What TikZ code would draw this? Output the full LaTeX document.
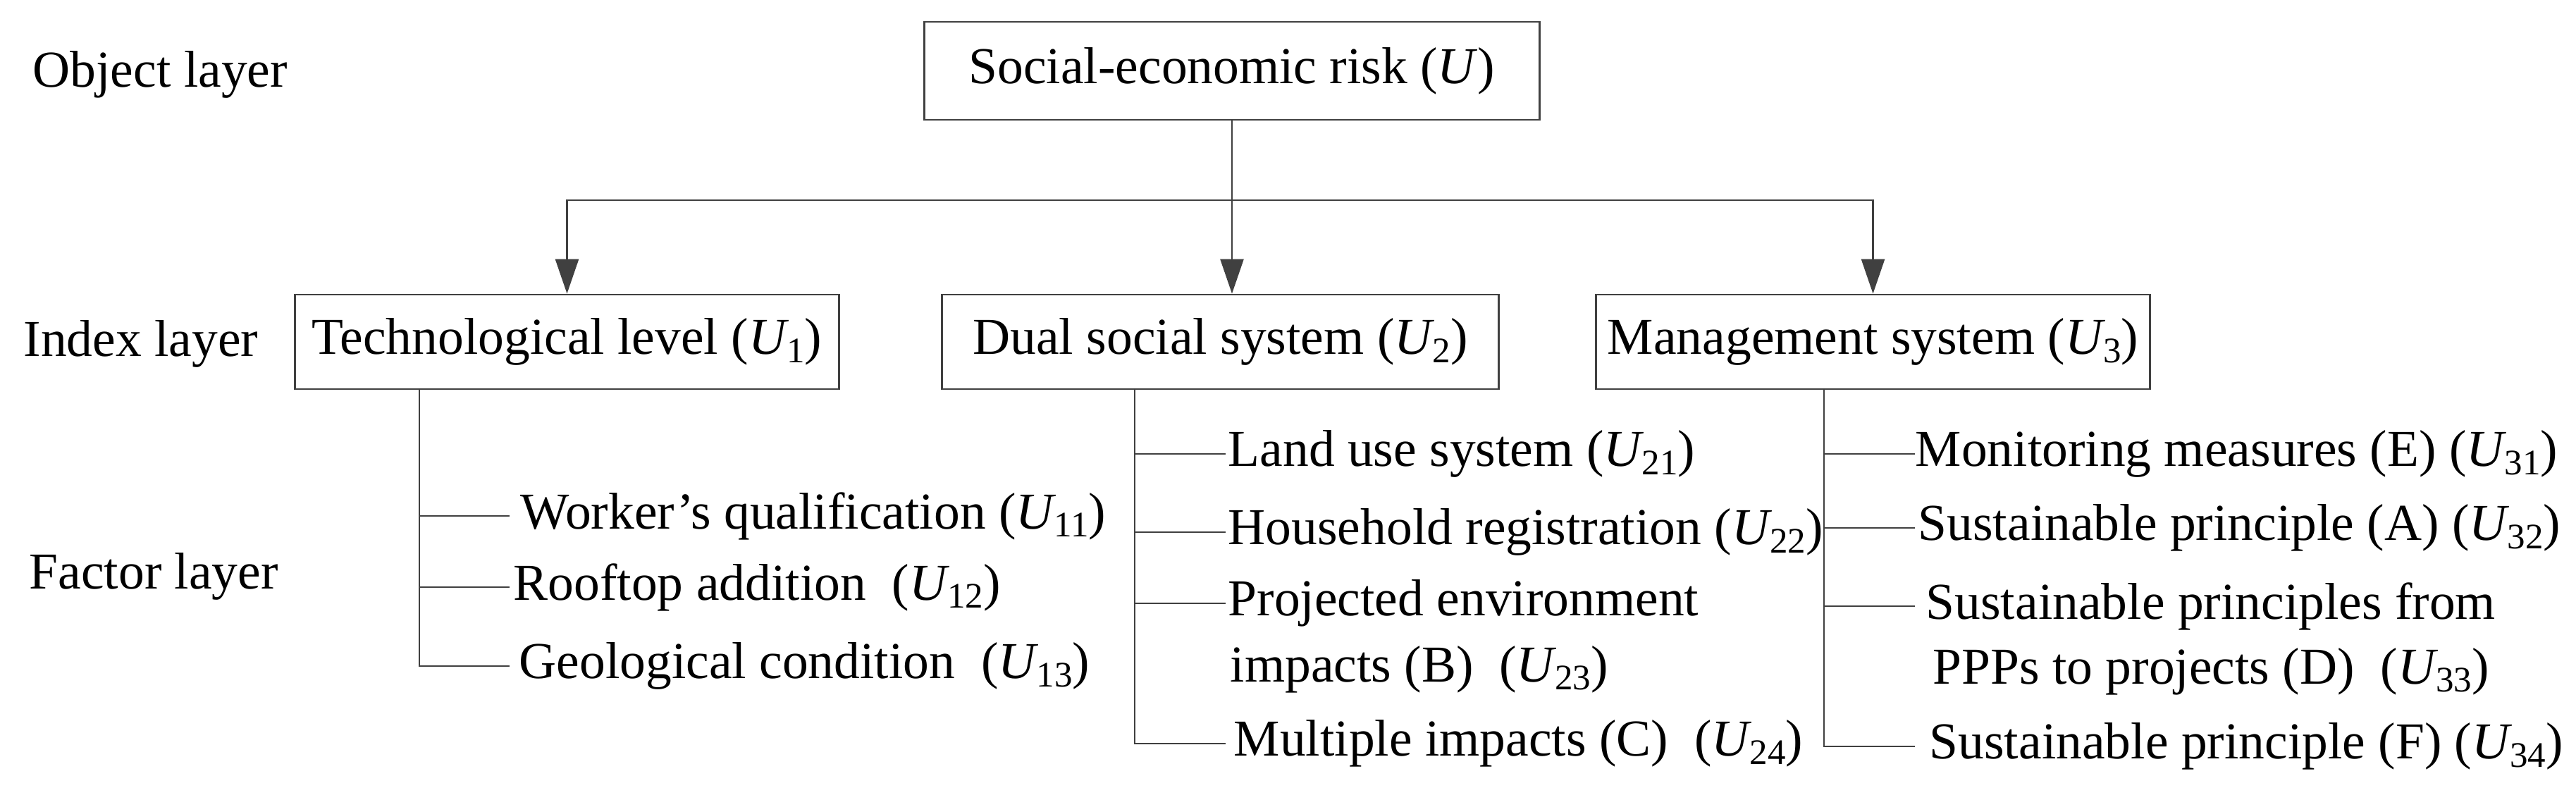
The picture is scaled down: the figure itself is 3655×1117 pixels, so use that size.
\documentclass[tikz,border=0pt]{standalone}
\usepackage{fontspec}
\setmainfont{Liberation Serif}
\usetikzlibrary{arrows.meta}
\definecolor{linec}{RGB}{64,64,64}
\newcommand\Us[1]{\textit{U}\kern-0.04em\raisebox{-0.35ex}{\fontsize{14.5}{15}\selectfont #1}}
\begin{document}
\begin{tikzpicture}[x=0.01cm,y=-0.01cm,font=\fontsize{20.9}{25}\selectfont,
  box/.style={draw=linec,line width=0.75pt,inner sep=0pt,align=center},
  conn/.style={draw=linec,line width=0.7pt},
  arr/.style={conn,-{Triangle[length=0.49cm,width=0.33cm]}},
  fac/.style={anchor=west,inner ysep=0pt,text=black},
  lay/.style={anchor=base west,inner sep=0pt}]
\useasboundingbox (0,0) rectangle (3655,1117);

% layer labels
\node[lay] (lo) at (46,123) {Object layer};
\node[lay] (li) at (33,505) {Index layer};
\node[lay] (lf) at (41,835) {Factor layer};

% object and index boxes
\node[box,minimum width=8.73cm,minimum height=1.39cm] (soc) at (1748,100.5) {Social-economic risk (\textit{U})};
\node[box,minimum width=7.71cm,minimum height=1.34cm] (tech) at (804.5,485) {Technological level (\Us{1})};
\node[box,minimum width=7.89cm,minimum height=1.34cm] (dual) at (1731.5,485) {Dual social system (\Us{2})};
\node[box,minimum width=7.85cm,minimum height=1.34cm] (man) at (2657.5,485) {Management system (\Us{3})};

% top connectors
\coordinate (j) at (1748,284);
\draw[conn] (soc.south) -- (j);
\draw[arr] (j) -| (tech.north);
\draw[arr] (j) -- (j |- dual.north);
\draw[arr] (j) -| (man.north);

% technological factors
\coordinate (tv) at (595,0);
\node[fac,inner xsep=0.15cm] (u11) at (723,732) {Worker’s qualification (\Us{11})};
\node[fac,inner xsep=0.05cm] (u12) at (723,833) {Rooftop addition\ \ (\Us{12})};
\node[fac,inner xsep=0.13cm] (u13) at (723,945) {Geological condition\ \ (\Us{13})};
\draw[conn] (tech.south -| tv) |- (u13.west);
\draw[conn] (tv |- u11.west) -- (u11.west);
\draw[conn] (tv |- u12.west) -- (u12.west);

% dual social system factors
\coordinate (dv) at (1610,0);
\node[fac,inner xsep=0.03cm] (u21) at (1739,644) {Land use system (\Us{21})};
\node[fac,inner xsep=0.03cm] (u22) at (1739,755) {Household registration (\Us{22})};
\node[fac,inner xsep=0.03cm] (u23) at (1739,856) {Projected environment};
\node[lay] (u23b) at (1745,967) {impacts (B)\ \ (\Us{23})};
\node[fac,inner xsep=0.11cm] (u24) at (1739,1055) {Multiple impacts (C)\ \ (\Us{24})};
\draw[conn] (dual.south -| dv) |- (u24.west);
\draw[conn] (dv |- u21.west) -- (u21.west);
\draw[conn] (dv |- u22.west) -- (u22.west);
\draw[conn] (dv |- u23.west) -- (u23.west);

% management system factors
\coordinate (mv) at (2588,0);
\node[fac,inner xsep=0pt] (u31) at (2717,644) {Monitoring measures (E) (\Us{31})};
\node[fac,inner xsep=0.04cm] (u32) at (2717,749) {Sustainable principle (A) (\Us{32})};
\node[fac,inner xsep=0.15cm] (u33) at (2717,860) {Sustainable principles from};
\node[lay] (u33b) at (2742,970) {PPPs to projects (D)\ \ (\Us{33})};
\node[fac,inner xsep=0.20cm] (u34) at (2717,1059) {Sustainable principle (F) (\Us{34})};
\draw[conn] (man.south -| mv) |- (u34.west);
\draw[conn] (mv |- u31.west) -- (u31.west);
\draw[conn] (mv |- u32.west) -- (u32.west);
\draw[conn] (mv |- u33.west) -- (u33.west);
\end{tikzpicture}
\end{document}
